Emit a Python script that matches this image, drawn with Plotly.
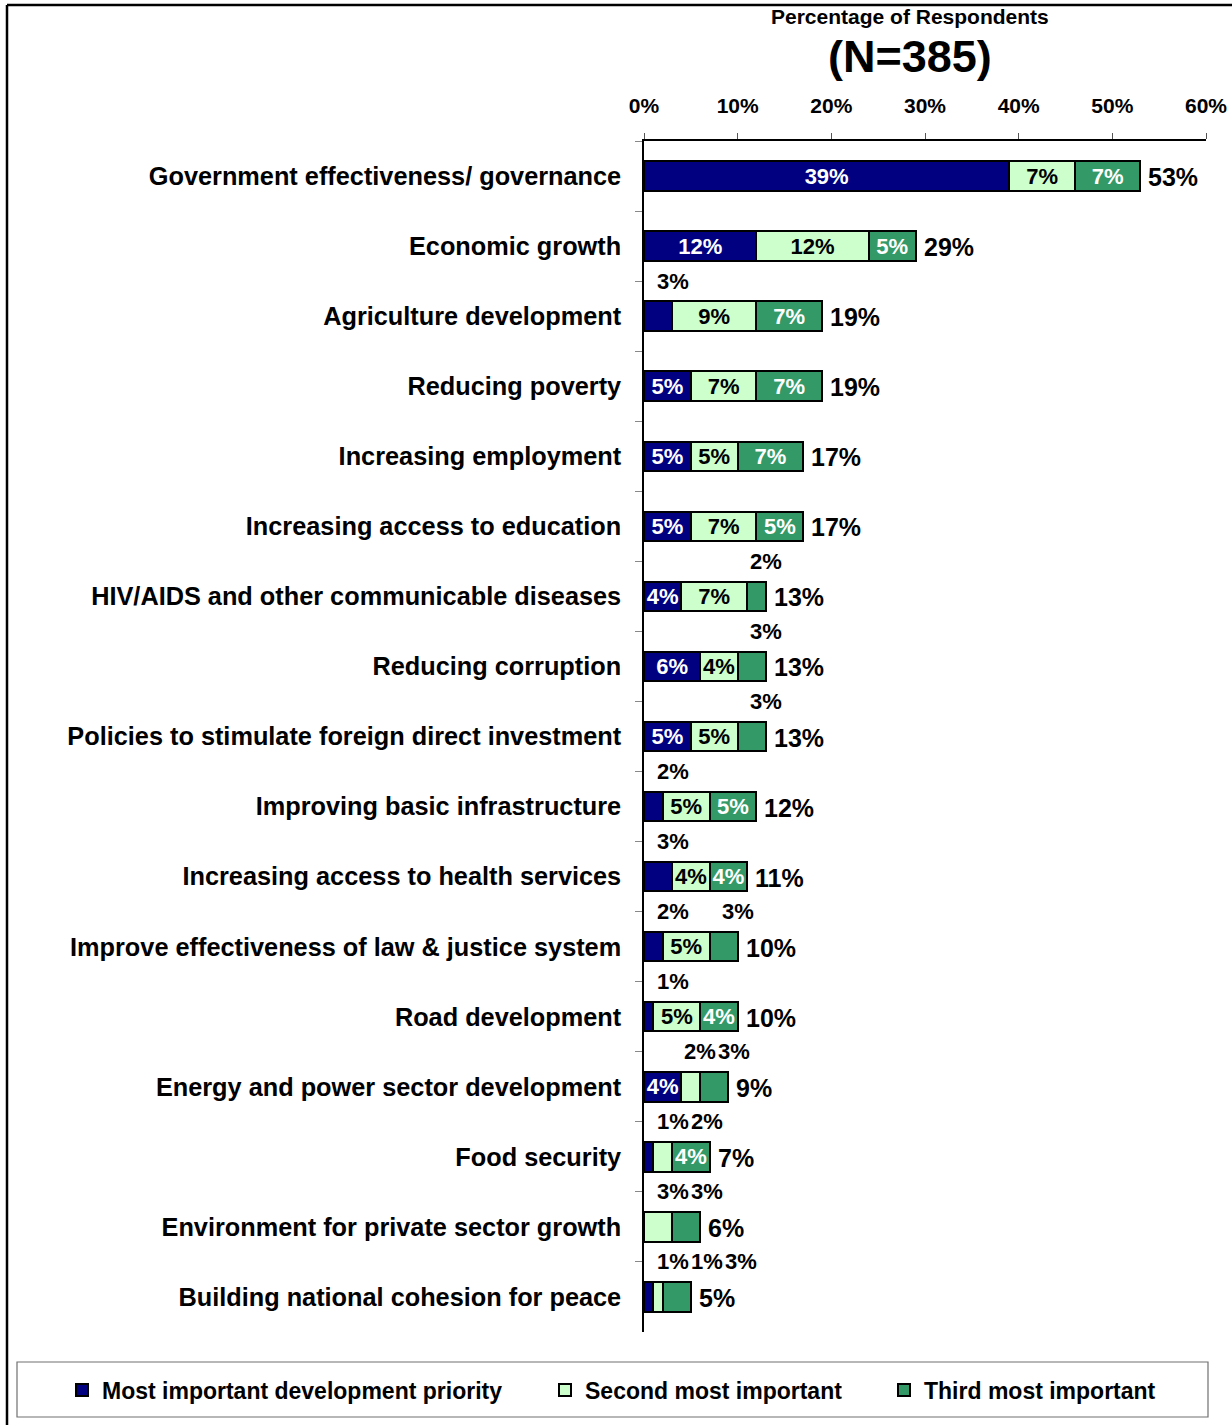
import plotly.graph_objects as go

# Development priorities, top to bottom (values in % of respondents, N=385)
categories = [
    "Government effectiveness/ governance",
    "Economic growth",
    "Agriculture development",
    "Reducing poverty",
    "Increasing employment",
    "Increasing access to education",
    "HIV/AIDS and other communicable diseases",
    "Reducing corruption",
    "Policies to stimulate foreign direct investment",
    "Improving basic infrastructure",
    "Increasing access to health services",
    "Improve effectiveness of law & justice system",
    "Road development",
    "Energy and power sector development",
    "Food security",
    "Environment for private sector growth",
    "Building national cohesion for peace",
]
most_important = [39, 12, 3, 5, 5, 5, 4, 6, 5, 2, 3, 2, 1, 4, 1, 0, 1]
second_most = [7, 12, 9, 7, 5, 7, 7, 4, 5, 5, 4, 5, 5, 2, 2, 3, 1]
third_most = [7, 5, 7, 7, 7, 5, 2, 3, 3, 5, 4, 3, 4, 3, 4, 3, 3]

series_names = [
    "Most important development priority",
    "Second most important",
    "Third most important",
]
x_ticks = [0, 10, 20, 30, 40, 50, 60]

# ---- styling ----
FONT = "Liberation Sans, Arial, sans-serif"
FILLS = ["#000080", "#CCFFCC", "#339966"]
INSIDE_TEXT = ["white", "black", "white"]
W, H = 1232, 1425
L, R, T, B = 644, 26, 141, 93
PW, PH = W - L - R, H - T - B
INSIDE_MIN = 4  # segments narrower than this get their label above the bar
LEGEND_SYMBOL_X = [82, 565, 904]  # centre of each legend key, px
LEGEND_Y = 1390


def px_x(px):
    return (px - L) / PW


def px_y(py):
    return (H - B - py) / PH


series = [most_important, second_most, third_most]
legend_ids = ["legend", "legend2", "legend3"]
fig = go.Figure()
for vals, name, fill, tcol, lg in zip(series, series_names, FILLS, INSIDE_TEXT, legend_ids):
    fig.add_trace(go.Bar(
        y=categories, x=vals, name=name, orientation="h",
        width=0.42, legend=lg,
        marker=dict(color=fill, line=dict(color="black", width=2)),
        text=[f"{v}%" if v >= INSIDE_MIN else "" for v in vals],
        textposition="inside", insidetextanchor="middle", textangle=0,
        constraintext="none",
        textfont=dict(family=FONT, size=22, color=tcol, weight="bold"),
        hoverinfo="skip",
    ))

annotations = []
units_per_px = 60 / PW
for i, cat in enumerate(categories):
    segs = [s[i] for s in series]
    total = sum(segs)
    # total at the end of each bar
    annotations.append(dict(
        x=total, y=cat, xref="x", yref="y", text=f"{total}%",
        showarrow=False, xanchor="left", xshift=6, yshift=-1,
        font=dict(family=FONT, size=25, color="black", weight="bold"),
    ))
    # small segments: label above the bar, kept clear of each other
    end = 0
    prev = None
    for v in segs:
        end += v
        if 0 < v < INSIDE_MIN:
            cx = max(end, 29 * units_per_px)
            if prev is not None:
                cx = max(cx, prev + 34 * units_per_px)
            prev = cx
            annotations.append(dict(
                x=cx, y=cat, xref="x", yref="y", text=f"{v}%",
                showarrow=False, xanchor="center", yshift=35,
                font=dict(family=FONT, size=22, color="black", weight="bold"),
            ))

annotations += [
    dict(x=px_x(910), y=px_y(17), xref="paper", yref="paper",
         text="Percentage of Respondents", showarrow=False,
         xanchor="center", yanchor="middle",
         font=dict(family=FONT, size=21, color="black", weight="bold")),
    dict(x=px_x(910), y=px_y(56), xref="paper", yref="paper",
         text="(N=385)", showarrow=False,
         xanchor="center", yanchor="middle",
         font=dict(family=FONT, size=45, color="black", weight="bold")),
]

shapes = [
    # outer frame (top and left edges)
    dict(type="line", xref="paper", yref="paper",
         x0=px_x(7), x1=px_x(W + 5), y0=px_y(5), y1=px_y(5),
         line=dict(color="black", width=2.5)),
    dict(type="line", xref="paper", yref="paper",
         x0=px_x(7), x1=px_x(7), y0=px_y(5), y1=px_y(H + 5),
         line=dict(color="black", width=2.5)),
    # legend box
    dict(type="rect", xref="paper", yref="paper",
         x0=px_x(17), x1=px_x(1208), y0=px_y(1362), y1=px_y(1417),
         line=dict(color="#707070", width=1.2), fillcolor="rgba(0,0,0,0)"),
]

legend_style = dict(
    orientation="h", xanchor="left", yanchor="middle",
    font=dict(family=FONT, size=23, color="black", weight="bold"),
    itemwidth=30, bgcolor="rgba(0,0,0,0)", borderwidth=0,
)
legends = {
    lg: dict(legend_style, x=px_x(sx - 20), y=px_y(LEGEND_Y))
    for lg, sx in zip(legend_ids, LEGEND_SYMBOL_X)
}

fig.update_layout(
    width=W, height=H,
    margin=dict(l=L, r=R, t=T, b=B, pad=0, autoexpand=False),
    paper_bgcolor="white", plot_bgcolor="white",
    barmode="stack",
    font=dict(family=FONT, color="black"),
    showlegend=True,
    annotations=annotations,
    shapes=shapes,
    xaxis=dict(
        side="top", range=[0, 60], tickvals=x_ticks,
        ticktext=[f"{t}%" for t in x_ticks],
        showgrid=False, zeroline=False,
        showline=True, linecolor="black", linewidth=1.5,
        ticks="outside", ticklen=6, tickcolor="#555555", tickwidth=1,
        ticklabelstandoff=12,
        tickfont=dict(family=FONT, size=21, color="black", weight="bold"),
        fixedrange=True,
    ),
    yaxis=dict(
        categoryorder="array", categoryarray=categories,
        range=[len(categories) - 0.5, -0.5],
        showgrid=False, zeroline=False,
        showline=True, linecolor="black", linewidth=1.5,
        ticks="outside", tickson="boundaries", ticklen=7,
        tickcolor="#888888", tickwidth=1,
        ticklabelstandoff=16,
        tickfont=dict(family=FONT, size=25.3, color="black", weight="bold"),
        fixedrange=True,
    ),
    **legends,
)

fig.write_html("out.html")
